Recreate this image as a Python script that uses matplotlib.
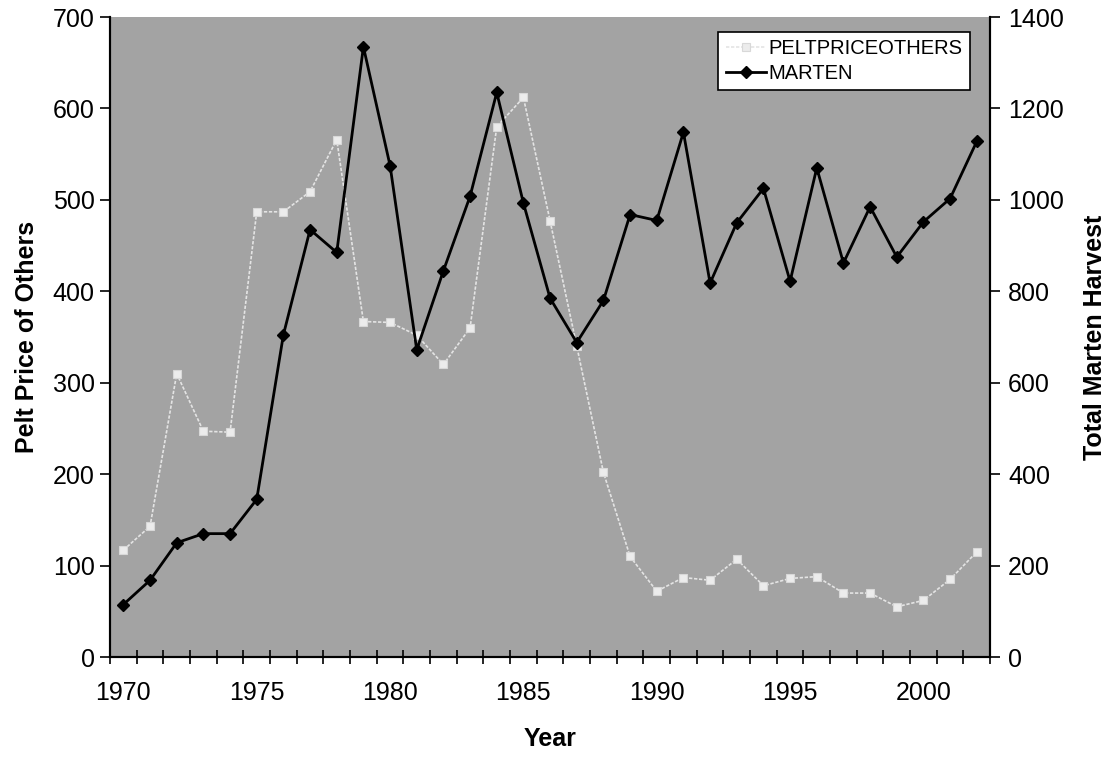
import numpy as np
import matplotlib
matplotlib.use("Agg")
import matplotlib.pyplot as plt

plt.rcParams['font.family'] = ['Liberation Sans', 'DejaVu Sans']

# годы и значения двух рядов
years = list(range(1970, 2003))
pelt_price_others = [117, 143, 310, 247, 246, 487, 487, 509, 566, 367, 366, 352,
                     320, 360, 580, 612, 477, 340, 202, 110, 72, 87, 84, 107,
                     78, 86, 88, 70, 70, 55, 62, 85, 115]
marten = [115, 168, 250, 270, 270, 345, 705, 935, 885, 1335, 1075, 672,
          845, 1008, 1235, 993, 785, 688, 780, 968, 955, 1148, 818, 950,
          1025, 822, 1070, 862, 985, 875, 952, 1003, 1128]
xlabels = [1970, 1975, 1980, 1985, 1990, 1995, 2000]

x = np.arange(len(years))

fig = plt.figure(figsize=(11.15, 7.57), dpi=100)
ax1 = fig.add_axes([0.0987, 0.132, 0.7893, 0.8455])
ax1.set_facecolor('#a3a3a3')
ax2 = ax1.twinx()

l1, = ax1.plot(x, pelt_price_others, color='#e4e4e4', lw=1.2, ls=(0, (2, 1)),
               marker='s', ms=6, mfc='#ececec', mec='#d8d8d8', mew=0.8)
l2, = ax2.plot(x, marten, color='black', lw=2, marker='D', ms=6.5,
               mfc='black', mec='black')

ax1.set_xlim(-0.5, len(years) - 0.5)
ax1.set_ylim(0, 700)
ax2.set_ylim(0, 1400)
ax1.set_yticks(range(0, 701, 100))
ax2.set_yticks(range(0, 1401, 200))

# деления по границам категорий, подписи по центрам
ax1.set_xticks(np.arange(-0.5, len(years), 1))
ax1.set_xticklabels([])
ax1.set_xticks([years.index(y) for y in xlabels], minor=True)
ax1.set_xticklabels([str(y) for y in xlabels], minor=True)
ax1.tick_params(axis='x', which='major', direction='inout', length=10, width=1.2)
ax1.tick_params(axis='x', which='minor', length=0, pad=17, labelsize=18)
ax1.tick_params(axis='y', direction='out', length=7, width=1.2, labelsize=18, pad=4)
ax2.tick_params(axis='y', direction='out', length=7, width=1.2, labelsize=18, pad=6)

for ax in (ax1, ax2):
    ax.spines['top'].set_visible(False)
    for s in ('left', 'right', 'bottom'):
        ax.spines[s].set_linewidth(1.5)
        ax.spines[s].set_color('black')

ax1.set_xlabel('Year', fontsize=18, fontweight='bold', labelpad=16)
ax1.set_ylabel('Pelt Price of Others', fontsize=18, fontweight='bold', labelpad=10)
ax2.set_ylabel('Total Marten Harvest', fontsize=18, fontweight='bold', labelpad=14)

leg = ax2.legend([l1, l2], ['PELTPRICEOTHERS', 'MARTEN'], loc='upper right',
                 bbox_to_anchor=(0.977, 0.9766), fontsize=14.5, frameon=True,
                 fancybox=False, edgecolor='black', framealpha=1,
                 handlelength=2.0, handletextpad=0.15, borderpad=0.35,
                 labelspacing=0.3, borderaxespad=0)
leg.get_frame().set_linewidth(1.2)

fig.savefig('out.png', dpi=100)
